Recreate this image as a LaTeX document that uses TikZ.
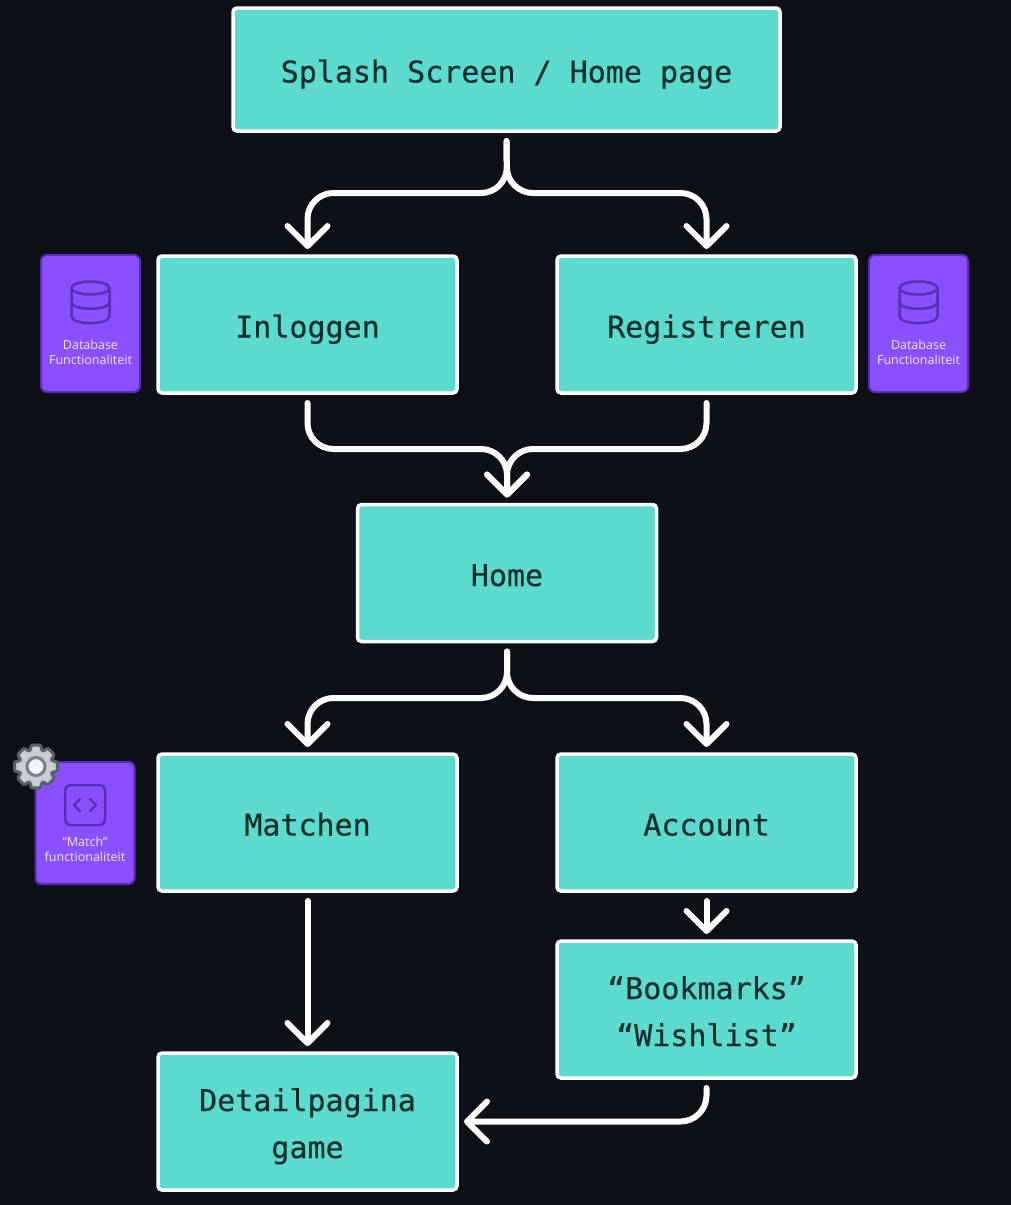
\documentclass[tikz,border=0pt]{standalone}
\usepackage{fontspec}
\setmainfont{Open Sans}
\setmonofont[FakeBold=0.35]{DejaVu Sans Mono}
\usetikzlibrary{arrows.meta}
\definecolor{pagebg}{HTML}{0D1117}
\definecolor{screenfill}{HTML}{5BDACD}
\definecolor{screentext}{HTML}{0F2E2C}
\definecolor{notefill}{HTML}{8A4FFF}
\definecolor{noteline}{HTML}{5A2DB4}
\definecolor{notetext}{HTML}{EFE8FF}
\definecolor{gearline}{HTML}{56616B}
\definecolor{gearfill}{HTML}{C9CDD1}
\definecolor{gearhub}{HTML}{F2F4F5}
\tikzset{
  screen/.style={draw=white, fill=screenfill, text=screentext, line width=3.5pt, rounded corners=4pt,
    minimum width=299pt, minimum height=137pt, align=center, inner sep=0pt, outer sep=0pt,
    text height=26pt, text depth=0pt,
    font=\fontsize{30}{47}\selectfont\ttfamily},
  twolines/.style={text height=73pt, text depth=0pt},
  note/.style={draw=noteline, fill=notefill, line width=2pt, rounded corners=6pt,
    minimum width=99pt, minimum height=137pt, inner sep=0pt, outer sep=0pt},
  notelabel/.style={text=notetext, align=center, inner sep=0pt, font=\fontsize{12.5}{15}\selectfont},
  icon/.style={draw=noteline, line width=2.5pt, line join=round, line cap=round},
  flow/.style={draw=white, line width=6pt, line cap=round, rounded corners=26pt, shorten <=10pt, shorten >=7pt,
    -{Straight Barb[length=20pt,width=40pt,round]}},
  dbicon/.pic={
    \draw[icon] (0,-15) ellipse [x radius=19pt, y radius=6.5pt];
    \draw[icon] (-19,-15) -- (-19,13) .. controls (-19,22.5) and (19,22.5) .. (19,13) -- (19,-15);
    \draw[icon] (-19,-1) .. controls (-19,8) and (19,8) .. (19,-1);
  }
}
\begin{document}
\begin{tikzpicture}[x=1pt,y=-1pt]
  \fill[pagebg] (0,0) rectangle (1011,1205);
  \useasboundingbox (0,0) rectangle (1011,1205);
  % screens
  \node[screen, minimum width=547pt, minimum height=123pt] (splash) at (506.5,69.5) {Splash Screen / Home page};
  \node[screen] (inloggen) at (307.5,324.5) {Inloggen};
  \node[screen] (registreren) at (706.5,324.5) {Registreren};
  \node[screen] (home) at (507,573) {Home};
  \node[screen] (matchen) at (307.5,822.5) {Matchen};
  \node[screen] (account) at (706.5,822.5) {Account};
  \node[screen, twolines] (bookmarks) at (706.5,1009.5) {“Bookmarks”\\“Wishlist”};
  \node[screen, twolines] (detail) at (307.5,1121.5) {Detailpagina\\game};
  % split and merge points
  \coordinate (splitone) at (507,193);
  \coordinate (mergeone) at (507,449);
  \coordinate (splittwo) at (507,698);
  \draw[flow] (splash.south) -- (splitone) -| (inloggen.north);
  \draw[flow] (splash.south) -- (splitone) -| (registreren.north);
  \draw[flow] (inloggen.south) |- (mergeone) -- (home.north);
  \draw[flow] (registreren.south) |- (mergeone) -- (home.north);
  \draw[flow] (home.south) -- (splittwo) -| (matchen.north);
  \draw[flow] (home.south) -- (splittwo) -| (account.north);
  \draw[flow] (matchen.south) -- (detail.north);
  \draw[flow] (account.south) -- (bookmarks.north);
  \draw[flow] (bookmarks.south) |- (detail.east);
  % purple notes
  \node[note] (dbleft) at (90.5,323.5) {};
  \pic at (90.5,303) {dbicon};
  \node[notelabel] (dbleftlabel) at (90.5,352) {Database\\Functionaliteit};
  \node[note] (dbright) at (918.5,323.5) {};
  \pic at (918.5,303) {dbicon};
  \node[notelabel] (dbrightlabel) at (918.5,352) {Database\\Functionaliteit};
  \node[note, minimum height=122pt] (match) at (85,823) {};
  \draw[icon, rounded corners=5pt] (65,785) rectangle (105,825);
  \draw[icon, line width=2.2pt] (80,799) -- (74,805) -- (80,811);
  \draw[icon, line width=2.2pt] (90,799) -- (96,805) -- (90,811);
  \node[notelabel] (matchlabel) at (85,849) {“Match”\\functionaliteit};
  % gear
  \begin{scope}[shift={(36,766.5)}]
    \draw[draw=gearline, fill=gearfill, line width=3pt, rounded corners=1.5pt, line join=round]
      (-19:17) \foreach \a in {0,45,...,315}{ -- (\a-19:17) -- (\a-13:22) -- (\a+13:22) -- (\a+19:17) } -- cycle;
    \draw[draw=gearline!80!white, fill=gearhub, line width=3pt] (0,0) circle (9pt);
  \end{scope}
\end{tikzpicture}
\end{document}
